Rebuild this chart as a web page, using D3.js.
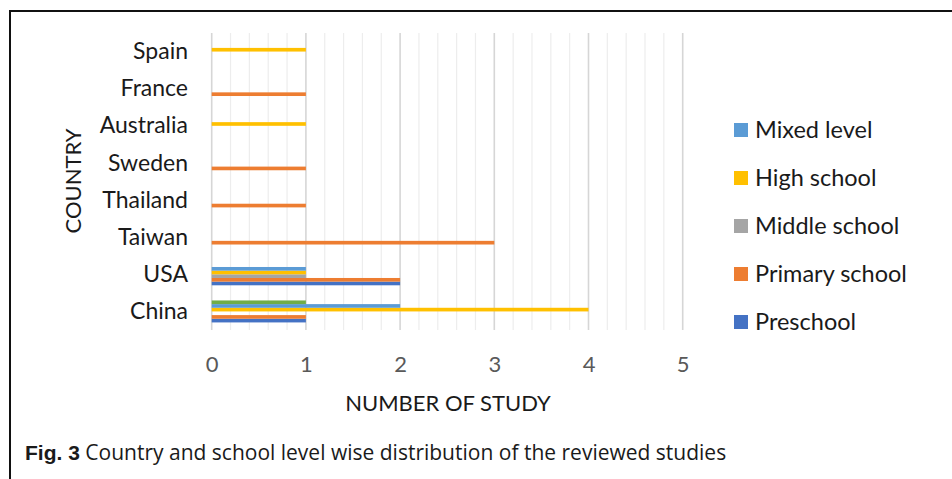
<!DOCTYPE html>
<html>
<head>
<meta charset="utf-8">
<script src="https://cdn.jsdelivr.net/npm/d3@7/dist/d3.min.js"></script>
<style>
  html, body { margin: 0; padding: 0; background: #fff; }
  svg { display: block; }
</style>
</head>
<body>
<svg id="chart" width="952" height="479"></svg>
<script>
// Countries, listed bottom to top as they appear on the axis
const countries = ["China", "USA", "Taiwan", "Thailand", "Sweden", "Australia", "France", "Spain"];

// Number of studies per school level, in the same order as countries
const preschool     = [1, 2, 0, 0, 0, 0, 0, 0];
const primarySchool = [1, 2, 3, 1, 1, 0, 1, 0];
const middleSchool  = [0, 1, 0, 0, 0, 0, 0, 0];
const highSchool    = [4, 1, 0, 0, 0, 1, 0, 1];
const mixedLevel    = [2, 1, 0, 0, 0, 0, 0, 0];
const otherLevel    = [1, 0, 0, 0, 0, 0, 0, 0];

const seriesNames  = ["Preschool", "Primary school", "Middle school", "High school", "Mixed level", "Other"];
const seriesColors = ["#4472C4", "#ED7D31", "#A5A5A5", "#FFC000", "#5B9BD5", "#70AD47"];
const xTicks = [0, 1, 2, 3, 4, 5];

const seriesValues = [preschool, primarySchool, middleSchool, highSchool, mixedLevel, otherLevel];
const series = seriesNames.map((name, i) => ({ name, color: seriesColors[i], values: seriesValues[i] }));

const svg = d3.select("#chart");
const labelFont = "Lato, 'Open Sans', sans-serif";

// outer frame (left and top edges)
svg.append("path")
  .attr("d", "M10,479 V11 H952")
  .attr("fill", "none")
  .attr("stroke", "#111")
  .attr("stroke-width", 2);

const plot = { left: 211.7, right: 682.7, top: 33, bottom: 330 };

const x = d3.scaleLinear().domain([0, 5]).range([plot.left, plot.right]);

// categories from bottom (China) to top (Spain)
const y = d3.scaleBand()
  .domain(countries)
  .range([plot.bottom, plot.top]);

// bar group inside each band; first series sits at the bottom
const groupWidth = y.bandwidth() * 0.592;
const yInner = d3.scaleBand()
  .domain(d3.range(series.length))
  .range([groupWidth, 0]);

const g = svg.append("g");

// minor gridlines every 0.2
const minor = d3.range(0, 25).map(i => i / 5).filter(v => Math.abs(v - Math.round(v)) > 1e-6);
g.selectAll("line.minor")
  .data(minor)
  .join("line")
  .attr("class", "minor")
  .attr("x1", d => x(d)).attr("x2", d => x(d))
  .attr("y1", plot.top).attr("y2", plot.bottom)
  .attr("stroke", "#ededed")
  .attr("stroke-width", 1.2);

// major gridlines
g.selectAll("line.major")
  .data(xTicks)
  .join("line")
  .attr("class", "major")
  .attr("x1", d => x(d)).attr("x2", d => x(d))
  .attr("y1", plot.top).attr("y2", plot.bottom)
  .attr("stroke", "#d6d6d6")
  .attr("stroke-width", 1.6);

// bars
const barData = [];
countries.forEach((c, ci) => {
  series.forEach((s, si) => {
    if (s.values[ci] > 0) barData.push({ country: c, si, value: s.values[ci], color: s.color });
  });
});

g.selectAll("rect.bar")
  .data(barData)
  .join("rect")
  .attr("class", "bar")
  .attr("x", x(0))
  .attr("y", d => y(d.country) + (y.bandwidth() - groupWidth) / 2 + yInner(d.si))
  .attr("width", d => x(d.value) - x(0))
  .attr("height", yInner.bandwidth())
  .attr("fill", d => d.color);

// x axis tick labels
const xAxis = d3.axisBottom(x).tickValues(xTicks).tickFormat(d3.format("d")).tickSize(0).tickPadding(0);
const xg = svg.append("g")
  .attr("transform", `translate(0,${plot.bottom})`)
  .call(xAxis);
xg.select(".domain").remove();
xg.selectAll("text")
  .attr("y", 42)
  .attr("dy", 0)
  .attr("font-family", labelFont)
  .attr("font-size", 22)
  .attr("fill", "#595959");

// y axis category labels
const yAxis = d3.axisLeft(y).tickSize(0).tickPadding(0);
const yg = svg.append("g")
  .attr("transform", "translate(188,0)")
  .call(yAxis);
yg.select(".domain").remove();
yg.selectAll("text")
  .attr("x", 0)
  .attr("dy", "0.33em")
  .attr("font-family", labelFont)
  .attr("font-size", 23)
  .attr("fill", "#1a1a1a");

// axis titles
svg.append("text")
  .attr("x", 448)
  .attr("y", 411)
  .attr("text-anchor", "middle")
  .attr("font-family", labelFont)
  .attr("font-size", 22)
  .attr("fill", "#1a1a1a")
  .text("NUMBER OF STUDY");

svg.append("text")
  .attr("transform", "translate(81,181) rotate(-90)")
  .attr("text-anchor", "middle")
  .attr("font-family", labelFont)
  .attr("font-size", 22)
  .attr("fill", "#1a1a1a")
  .text("COUNTRY");

// legend, listed top to bottom in reverse series order
const legendItems = series.slice(0, 5).reverse();
const legend = svg.append("g").attr("transform", "translate(734,130)");
const li = legend.selectAll("g")
  .data(legendItems)
  .join("g")
  .attr("transform", (d, i) => `translate(0,${i * 48})`);
li.append("rect")
  .attr("x", 0).attr("y", -7)
  .attr("width", 14).attr("height", 14)
  .attr("fill", d => d.color);
li.append("text")
  .attr("x", 21)
  .attr("dy", "0.35em")
  .attr("font-family", labelFont)
  .attr("font-size", 23.5)
  .attr("fill", "#1a1a1a")
  .text(d => d.name);

// figure caption
const cap = svg.append("text")
  .attr("x", 25)
  .attr("y", 460)
  .attr("font-size", 21)
  .attr("fill", "#1a1a1a");
cap.append("tspan")
  .attr("font-family", "'Liberation Sans', Arial, sans-serif")
  .attr("font-weight", "bold")
  .text("Fig. 3");
cap.append("tspan")
  .attr("font-family", "'Open Sans', sans-serif")
  .text(" Country and school level wise distribution of the reviewed studies");
</script>
</body>
</html>
